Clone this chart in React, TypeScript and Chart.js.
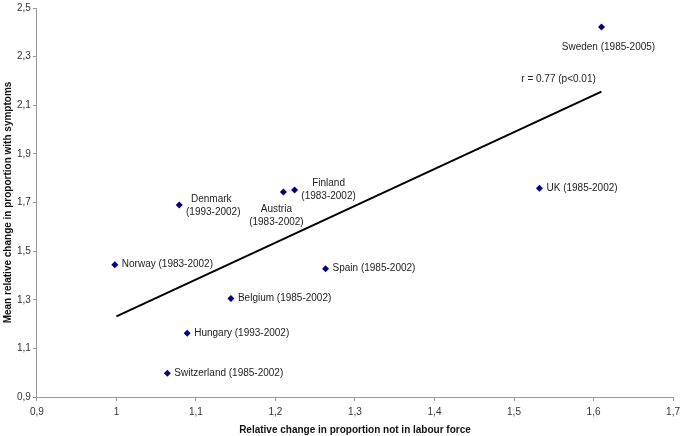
import React, { useEffect, useRef } from "react";
import { Chart, registerables } from "chart.js";

Chart.register(...registerables);

const countries = ["Sweden", "UK", "Finland", "Austria", "Denmark", "Norway", "Spain", "Belgium", "Hungary", "Switzerland"];
const periods = ["1985-2005", "1985-2002", "1983-2002", "1983-2002", "1993-2002", "1983-2002", "1985-2002", "1985-2002", "1993-2002", "1985-2002"];
const xValues = [1.61, 1.532, 1.224, 1.21, 1.079, 0.998, 1.263, 1.144, 1.089, 1.064];
const yValues = [2.422, 1.759, 1.751, 1.743, 1.69, 1.444, 1.428, 1.305, 1.162, 0.998];
const trendX = [1.0, 1.61];
const trendY = [1.232, 2.156];
const corrText = "r = 0.77 (p<0.01)";
const corrAt = { x: 1.556, y: 2.205 };

// label placement: mode "right" = single line to the right; "two" = two lines centered at offset
const labelLayout: { mode: string; dx: number; dy: number; dx2?: number }[] = [
  { mode: "below", dx: 7, dy: 20 },
  { mode: "right", dx: 7, dy: 0 },
  { mode: "two", dx: 34, dy: -7 },
  { mode: "two", dx: -7, dy: 17 },
  { mode: "two", dx: 32, dy: -6, dx2: 34 },
  { mode: "right", dx: 7, dy: 0 },
  { mode: "right", dx: 7, dy: 0 },
  { mode: "right", dx: 7, dy: 0 },
  { mode: "right", dx: 7, dy: 0 },
  { mode: "right", dx: 7, dy: 0 },
];

const FONT = "'Liberation Sans', Arial, sans-serif";

const fmt = (v: number) => String(Math.round(v * 10) / 10).replace(".", ",");

const labelPlugin = {
  id: "pointLabels",
  afterDatasetsDraw(chart: any) {
    const { ctx, scales } = chart;
    const xs = scales.x;
    const ys = scales.y;
    ctx.save();
    ctx.font = `10px ${FONT}`;
    ctx.fillStyle = "#222";
    ctx.textBaseline = "middle";
    countries.forEach((c, i) => {
      const px = xs.getPixelForValue(xValues[i]);
      const py = ys.getPixelForValue(yValues[i]);
      const L = labelLayout[i];
      const full = `${c} (${periods[i]})`;
      if (L.mode === "right") {
        ctx.textAlign = "left";
        ctx.fillText(full, px + L.dx, py + L.dy);
      } else if (L.mode === "below") {
        ctx.textAlign = "center";
        ctx.fillText(full, px + L.dx, py + L.dy);
      } else {
        ctx.textAlign = "center";
        ctx.fillText(c, px + L.dx, py + L.dy);
        ctx.fillText(`(${periods[i]})`, px + (L.dx2 ?? L.dx), py + L.dy + 13);
      }
    });
    ctx.textAlign = "center";
    ctx.fillText(corrText, xs.getPixelForValue(corrAt.x), ys.getPixelForValue(corrAt.y));
    ctx.restore();
  },
};

export default function App() {
  const ref = useRef<HTMLCanvasElement>(null);
  useEffect(() => {
    if (!ref.current) return;
    const chart = new Chart(ref.current, {
      type: "scatter",
      data: {
        datasets: [
          {
            label: "Countries",
            data: xValues.map((x, i) => ({ x, y: yValues[i] })),
            pointStyle: "rectRot",
            pointRadius: 3.5,
            pointHoverRadius: 3.5,
            backgroundColor: "#000080",
            borderColor: "#000080",
            borderWidth: 0,
          },
          {
            label: "Trend",
            type: "line",
            data: trendX.map((x, i) => ({ x, y: trendY[i] })),
            showLine: true,
            pointRadius: 0,
            borderColor: "#000",
            borderWidth: 2,
            fill: false,
          } as any,
        ],
      },
      options: {
        animation: false,
        responsive: false,
        layout: { padding: { top: 0, right: 4, left: 2, bottom: 0 } },
        plugins: { legend: { display: false }, tooltip: { enabled: false } },
        scales: {
          x: {
            type: "linear",
            min: 0.9,
            max: 1.7,
            ticks: {
              stepSize: 0.1,
              callback: (v: any) => fmt(Number(v)),
              color: "#333",
              font: { family: FONT, size: 10 },
              padding: 5,
            },
            grid: { drawOnChartArea: false, drawTicks: true, tickLength: 4, color: "#999" },
            border: { color: "#999" },
            title: {
              display: true,
              text: "Relative change in proportion not in labour force",
              color: "#111",
              font: { family: FONT, size: 10, weight: "bold" },
              padding: { top: 1, bottom: 0 },
            },
          },
          y: {
            type: "linear",
            min: 0.9,
            max: 2.5,
            ticks: {
              stepSize: 0.2,
              callback: (v: any) => fmt(Number(v)),
              color: "#333",
              font: { family: FONT, size: 10 },
              padding: 2,
            },
            grid: { drawOnChartArea: false, drawTicks: true, tickLength: 4, color: "#999" },
            border: { color: "#999" },
            title: {
              display: true,
              text: "Mean relative change in proportion with symptoms",
              color: "#111",
              font: { family: FONT, size: 10, weight: "bold" },
              padding: { top: 0, bottom: 1 },
            },
          },
        },
      },
      plugins: [labelPlugin],
    });
    return () => chart.destroy();
  }, []);
  return (
    <div style={{ position: "absolute", left: 0, top: 0, width: 685, height: 436, background: "#fff" }}>
      <canvas ref={ref} width={685} height={436} />
    </div>
  );
}
